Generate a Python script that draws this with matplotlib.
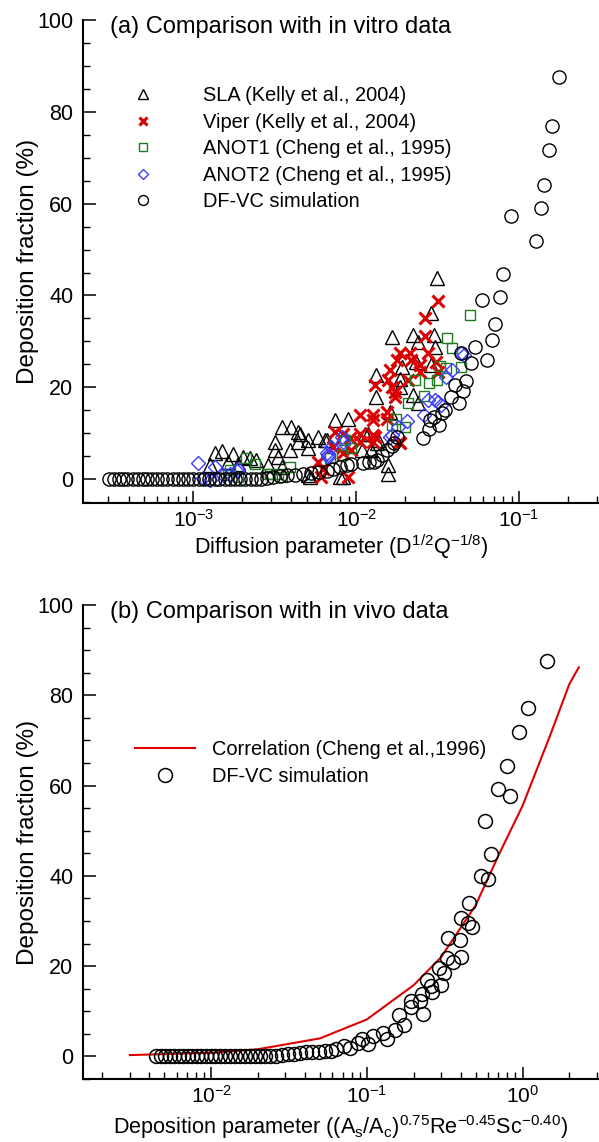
import matplotlib
matplotlib.use('Agg')
import matplotlib.pyplot as plt
from matplotlib.ticker import MultipleLocator, LogLocator, NullFormatter

plt.rcParams['font.family'] = ['Liberation Sans', 'DejaVu Sans']
plt.rcParams['mathtext.fontset'] = 'custom'
plt.rcParams['mathtext.rm'] = 'Liberation Sans'
plt.rcParams['mathtext.it'] = 'Liberation Sans:italic'
plt.rcParams['mathtext.bf'] = 'Liberation Sans:bold'

# ---- (a) in vitro data ----
sla_x = [0.0313, 0.0290, 0.0165, 0.0224, 0.0240, 0.0300, 0.0304, 0.0190,
         0.0234, 0.0290, 0.0133, 0.0185, 0.0185, 0.0133, 0.0224, 0.0240,
         0.0161, 0.0074, 0.0089, 0.00348, 0.00397, 0.00452, 0.00317, 0.00508,
         0.00580, 0.00658, 0.0119, 0.0137, 0.00392, 0.00317, 0.00332, 0.0108,
         0.0124, 0.0157, 0.0157, 0.00348, 0.0052, 0.0079, 0.00149, 0.00176,
         0.00136, 0.00203, 0.00223, 0.00244, 0.00164, 0.00189, 0.00126, 0.00288,
         0.00441, 0.00441, 0.00508, 0.00508, 0.00643, 0.0083, 0.0113, 0.0134]
sla_y = [43.7, 36.1, 30.9, 31.4, 29.9, 31.4, 28.8, 24.5,
         25.6, 24.8, 22.7, 21.9, 20.1, 17.9, 18.3, 16.5,
         14.7, 12.9, 13.2, 11.4, 11.4, 9.9, 8.1, 8.5,
         9.2, 8.5, 9.9, 8.5, 6.3, 6.3, 4.9, 6.3,
         6.3, 3.1, 1.2, 2.7, 0.5, 0.5, 6.2, 5.4,
         5.6, 4.9, 4.5, 4.1, 3.8, 3.4, 3.1, 3.1,
         10.3, 8.1, 6.7, 0.9, 8.5, 0.5, 9.9, 7.8]

viper_x = [0.0319, 0.0264, 0.0264, 0.0185, 0.0213, 0.0277, 0.0177, 0.0218,
           0.0246, 0.0311, 0.0161, 0.0246, 0.0319, 0.0157, 0.0208, 0.0130,
           0.0165, 0.0173, 0.0173, 0.0105, 0.0127, 0.0154, 0.0127, 0.0154,
           0.0074, 0.0083, 0.0105, 0.0127, 0.0091, 0.0105, 0.0127, 0.0185,
           0.00585, 0.00629, 0.00612, 0.00893, 0.00935, 0.00832, 0.00723, 0.0130,
           0.0184]
viper_y = [38.8, 35.0, 31.2, 27.4, 27.4, 27.4, 25.9, 25.9,
           24.8, 25.6, 23.7, 23.4, 23.4, 21.6, 21.6, 20.5,
           20.1, 19.0, 17.9, 13.9, 13.9, 14.7, 12.9, 13.2,
           10.3, 9.9, 9.9, 9.6, 8.9, 8.1, 8.1, 7.8,
           3.8, 2.3, 0.5, 0.5, 6.3, 5.6, 7.0, 9.2,
           8.1]

anot1_x = [0.0502, 0.0363, 0.0388, 0.0438, 0.0326, 0.0313, 0.0281, 0.0229,
           0.0261, 0.0208, 0.0175, 0.0199, 0.00935, 0.00813, 0.00691, 0.0358,
           0.0165, 0.00853, 0.00392, 0.00348, 0.00296, 0.00210, 0.00239, 0.00288,
           0.00189, 0.00164, 0.00168, 0.00332]
anot1_y = [35.8, 30.7, 28.5, 24.5, 24.6, 21.6, 21.0, 21.6,
           18.2, 16.5, 13.2, 11.4, 6.7, 5.2, 4.5, 24.1,
           11.8, 8.5, 2.7, 0.5, 1.2, 4.5, 3.4, 1.2,
           0.5, 0.9, 2.0, 1.2]

anot2_x = [0.0443, 0.0458, 0.0385, 0.0358, 0.0319, 0.0304, 0.0277, 0.0261,
           0.0204, 0.0181, 0.0161, 0.00813, 0.00705, 0.00667, 0.0333, 0.0165,
           0.00832, 0.00673, 0.00107, 0.00136, 0.00115, 0.00153, 0.00168, 0.00185,
           0.00189, 0.00126, 0.00658]
anot2_y = [27.4, 27.0, 23.7, 22.3, 16.8, 17.2, 17.2, 13.9,
           12.7, 11.4, 9.2, 9.2, 7.0, 4.9, 16.1, 9.6,
           8.1, 5.2, 3.5, 2.7, 0.2, 0.9, 1.2, 1.8,
           2.3, -0.2, 5.6]

sim_a_x = [3.05e-4, 3.27e-4, 3.47e-4, 3.72e-4, 3.94e-4, 4.23e-4, 4.60e-4, 4.93e-4,
           5.22e-4, 5.60e-4, 6.01e-4, 6.45e-4, 6.92e-4, 7.53e-4, 8.09e-4, 8.68e-4,
           9.31e-4, 1.00e-3, 1.09e-3, 1.17e-3, 1.25e-3, 1.35e-3, 1.44e-3, 1.57e-3,
           1.69e-3, 1.81e-3, 1.94e-3, 2.09e-3, 2.27e-3, 2.44e-3, 2.61e-3,
           2.84e-3, 3.10e-3, 3.42e-3, 3.78e-3, 4.23e-3, 4.73e-3, 5.30e-3, 5.93e-3,
           6.64e-3, 7.22e-3, 7.98e-3, 8.81e-3, 9.31e-3, 1.10e-2, 1.20e-2, 1.29e-2,
           1.35e-2, 1.44e-2, 1.55e-2, 1.66e-2, 1.71e-2, 1.79e-2, 2.58e-2, 2.80e-2,
           2.84e-2, 3.01e-2, 3.23e-2, 3.37e-2, 3.52e-2, 3.83e-2, 4.05e-2, 4.29e-2,
           4.53e-2, 4.73e-2, 4.41e-2, 5.08e-2, 5.37e-2, 5.93e-2, 6.37e-2, 6.83e-2,
           7.13e-2, 7.64e-2, 7.97e-2, 8.93e-2, 0.127, 0.136, 0.142, 0.153,
           0.159, 0.176]
sim_a_y = [0.0, 0.0, 0.0, 0.0, 0.0, 0.0, 0.0, 0.0,
           0.0, 0.0, 0.0, 0.0, 0.0, 0.0, 0.0, 0.0,
           0.0, 0.0, 0.0, 0.0, 0.0, 0.0, 0.0, 0.0,
           0.0, 0.0, 0.0, 0.0, 0.0, 0.0, 0.0,
           0.3, 0.5, 0.7, 0.9, 1.0, 1.2, 1.3, 1.5,
           1.8, 2.2, 2.7, 3.0, 3.4, 3.6, 3.7, 3.8,
           4.1, 5.2, 6.3, 7.2, 7.8, 9.2, 8.9, 11.0,
           12.9, 13.6, 11.8, 14.3, 15.0, 17.9, 20.5, 16.5,
           19.2, 21.4, 27.5, 25.3, 28.8, 39.0, 25.9, 30.3,
           33.7, 39.6, 44.6, 57.3, 51.8, 59.0, 64.0, 71.6,
           77.0, 87.5]

# ---- (b) in vivo data ----
corr_x = [0.003, 0.01, 0.02, 0.05, 0.1, 0.2, 0.3, 0.5, 0.7, 1.0, 1.5, 2.0, 2.3]
corr_y = [0.3, 0.8, 1.6, 4.0, 8.2, 15.8, 22.0, 33.5, 44.5, 55.5, 71.0, 82.5, 86.2]

sim_b_x = [4.43e-3, 4.78e-3, 5.07e-3, 5.46e-3, 5.79e-3, 6.24e-3, 6.62e-3, 7.13e-3,
           7.56e-3, 8.13e-3, 8.63e-3, 9.29e-3, 1.00e-2, 1.06e-2, 1.14e-2, 1.23e-2,
           1.32e-2, 1.43e-2, 1.53e-2, 1.65e-2, 1.78e-2, 1.91e-2, 2.06e-2, 2.22e-2,
           2.39e-2, 2.61e-2, 2.85e-2, 3.12e-2, 3.40e-2, 3.72e-2, 4.07e-2, 4.44e-2,
           4.92e-2, 5.38e-2,
           0.0588, 0.0633, 0.0715, 0.0781, 0.0871, 0.0925, 0.101, 0.110,
           0.126, 0.134, 0.151, 0.173, 0.161, 0.231, 0.191, 0.191,
           0.220, 0.227, 0.264, 0.257, 0.298, 0.243, 0.313, 0.290,
           0.360, 0.401, 0.326, 0.394, 0.332, 0.476, 0.446, 0.401,
           0.453, 0.597, 0.543, 0.624, 0.577, 0.826, 0.695, 0.789,
           0.946, 1.08, 1.43]
sim_b_y = [0.0, 0.0, 0.0, 0.0, 0.0, 0.0, 0.0, 0.0,
           0.0, 0.0, 0.0, 0.0, 0.0, 0.0, 0.0, 0.0,
           0.0, 0.0, 0.0, 0.0, 0.0, 0.0, 0.0, 0.0,
           0.1, 0.2, 0.3, 0.5, 0.6, 0.8, 0.9, 0.9,
           1.0, 1.1,
           1.2, 1.7, 2.3, 1.9, 3.0, 3.9, 2.7, 4.6,
           5.1, 3.9, 5.9, 6.9, 9.1, 9.5, 10.9, 12.2,
           12.2, 13.9, 14.3, 15.7, 15.9, 16.9, 18.4, 19.5,
           20.9, 22.1, 21.7, 25.8, 26.3, 28.7, 29.5, 30.7,
           34.0, 39.4, 39.9, 44.9, 52.2, 57.6, 59.3, 64.3,
           71.8, 77.2, 87.6]

fig = plt.figure(figsize=(5.99, 11.42), dpi=100)
W, H = 599.0, 1142.0
ax1 = fig.add_axes([83 / W, 1 - 503 / H, 1 - 83 / W, (503 - 20) / H])
ax2 = fig.add_axes([83 / W, 1 - 1079 / H, 1 - 83 / W, (1079 - 605) / H])


def style(ax, xlim, ylim):
    ax.set_xscale('log')
    ax.set_xlim(*xlim)
    ax.set_ylim(*ylim)
    ax.spines['top'].set_visible(False)
    ax.spines['right'].set_visible(False)
    ax.spines['left'].set_linewidth(1.5)
    ax.spines['bottom'].set_linewidth(1.5)
    ax.yaxis.set_major_locator(MultipleLocator(20))
    ax.yaxis.set_minor_locator(MultipleLocator(5))
    ax.xaxis.set_minor_locator(LogLocator(base=10, subs=range(2, 10), numticks=20))
    ax.xaxis.set_minor_formatter(NullFormatter())
    ax.tick_params(which='major', direction='in', length=9, width=1.1)
    ax.tick_params(axis='x', which='major', labelsize=15, pad=4)
    ax.tick_params(axis='y', which='major', labelsize=15.5, pad=7)
    ax.tick_params(which='minor', direction='in', length=5, width=1.0)


style(ax1, (2.1e-4, 0.31), (-5.2, 100))
style(ax2, (1.5e-3, 3.1), (-5.0, 100))

red = '#dd0000'
green = '#1e7a1e'
blue = '#3c3cff'

ax1.plot(sla_x, sla_y, '^', ms=10, mfc='none', mec='black', mew=1.0,
         label='SLA (Kelly et al., 2004)')
ax1.plot(viper_x, viper_y, 'x', ms=8, mec=red, mew=2.2,
         label='Viper (Kelly et al., 2004)')
ax1.plot(anot1_x, anot1_y, 's', ms=7, mfc='none', mec=green, mew=1.0,
         label='ANOT1 (Cheng et al., 1995)')
ax1.plot(anot2_x, anot2_y, 'D', ms=7, mfc='none', mec=blue, mew=1.0,
         label='ANOT2 (Cheng et al., 1995)')
ax1.plot(sim_a_x, sim_a_y, 'o', ms=9.5, mfc='none', mec='black', mew=1.0,
         label='DF-VC simulation')

ax1.legend(loc='upper left', bbox_to_anchor=(125 / W, 1 - 86 / H),
           bbox_transform=fig.transFigure, frameon=False, fontsize=14.4,
           handlelength=1.8, handletextpad=2.1, labelspacing=0.38,
           borderpad=0, borderaxespad=0, markerscale=0.75)

ax1.set_xlabel('Diffusion parameter (D$^{1/2}$Q$^{-1/8}$)', fontsize=15.6)
ax1.set_ylabel('Deposition fraction (%)', fontsize=17.5)
ax1.xaxis.set_label_coords(0.5, (503 - 547) / 483.0)
ax1.xaxis.label.set_va('center')
ax1.yaxis.set_label_coords((28 - 83) / 516.0, 0.5)
ax1.yaxis.label.set_va('center')
fig.text(110 / W, 1 - 27 / H, '(a) Comparison with in vitro data',
         fontsize=17, va='center', ha='left')

ax2.plot(corr_x, corr_y, '-', color=red, lw=1.5,
         label='Correlation (Cheng et al.,1996)')
ax2.plot(sim_b_x, sim_b_y, 'o', ms=10, mfc='none', mec='black', mew=1.1,
         label='DF-VC simulation')

ax2.legend(loc='upper left', bbox_to_anchor=(135 / W, 1 - 740 / H),
           bbox_transform=fig.transFigure, frameon=False, fontsize=14.4,
           handlelength=3.0, handletextpad=0.85, labelspacing=0.39,
           borderpad=0, borderaxespad=0)

ax2.set_xlabel(r'Deposition parameter ((A$_\mathrm{s}$/A$_\mathrm{c}$)$^{0.75}$'
               r'Re$^{-0.45}$Sc$^{-0.40}$)', fontsize=15.6)
ax2.set_ylabel('Deposition fraction (%)', fontsize=17.5)
ax2.xaxis.set_label_coords(0.5, (1079 - 1127) / 474.0)
ax2.xaxis.label.set_va('center')
ax2.yaxis.set_label_coords((28 - 83) / 516.0, 0.5)
ax2.yaxis.label.set_va('center')
fig.text(110 / W, 1 - 612 / H, '(b) Comparison with in vivo data',
         fontsize=17, va='center', ha='left')

fig.savefig('out.png', dpi=100)
